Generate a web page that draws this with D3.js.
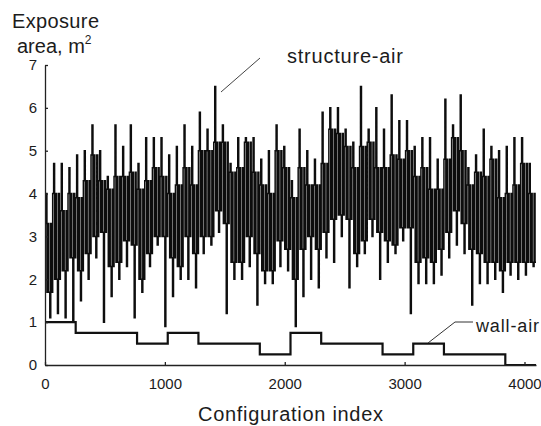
<!DOCTYPE html>
<html><head><meta charset="utf-8">
<script src="https://cdn.jsdelivr.net/npm/d3@7"></script>
<style>
body{margin:0;background:#fff}
svg{display:block}
text{font-family:"Liberation Sans",Arial,sans-serif;fill:#1c1c1c}
</style>
</head><body><svg id="c" width="541" height="426"></svg>
<script>
// ---- data ----
const xTickValues = [0, 1000, 2000, 3000, 4000];
const yTickValues = [0, 1, 2, 3, 4, 5, 6, 7];
const configCount = 4096;

// wall-air exposure area, one value per block of 256 configurations
const wallAirBlock = 256;
const wallAir = [1, 0.75, 0.75, 0.5, 0.75, 0.5, 0.5, 0.25, 0.75, 0.5, 0.5, 0.25, 0.5, 0.25, 0.25, 0];

// structure-air exposure area, envelope per block of 64 configurations
const structureBlock = 64;
const structurePeak = [4.0,4.7,4.7,4.6,4.9,5.0,5.6,5.0,4.4,5.6,5.1,5.6,4.7,5.3,5.3,5.3,
  4.9,5.1,5.6,5.1,5.9,5.5,6.5,5.6,4.7,5.3,5.3,5.3,4.8,5.0,5.6,5.1,
  4.3,5.5,5.0,4.8,5.9,6.0,6.0,5.5,5.2,6.5,5.5,6.0,5.5,6.3,5.7,5.7,
  5.1,5.3,5.3,4.8,6.2,5.6,6.3,4.6,4.9,5.5,5.1,5.0,5.1,5.3,5.3,4.7];
const structureBandTop = [3.3,4.0,3.6,4.0,3.9,4.3,4.9,4.3,4.1,4.4,4.4,4.5,4.1,4.3,4.6,4.4,
  4.0,4.2,4.6,4.2,5.0,5.0,5.2,5.2,4.5,4.6,5.2,4.5,4.2,4.0,5.0,4.6,
  3.9,4.6,4.2,4.2,4.7,5.5,5.4,5.1,4.6,5.1,5.2,4.6,4.6,4.9,4.8,5.0,
  4.4,4.6,4.1,4.1,4.8,5.3,5.0,4.2,4.5,4.4,4.8,3.9,4.0,4.2,4.7,4.0];
const structureBandBottom = [1.7,2.0,2.2,2.5,2.2,2.6,3.0,3.1,2.3,2.4,2.9,2.8,2.0,2.6,3.0,3.0,
  2.5,2.3,3.0,2.6,3.0,3.0,3.6,3.3,2.4,2.4,3.0,2.6,2.2,2.2,2.9,2.7,
  2.0,2.7,3.0,2.7,3.1,3.4,3.5,3.4,2.6,2.9,3.4,3.1,2.9,2.8,3.2,3.2,
  2.4,2.5,2.4,2.7,3.1,3.6,3.3,2.7,2.6,2.4,2.4,2.2,2.4,2.4,2.4,2.4];
const structureTrough = [1.1,1.2,1.1,1.0,1.5,2.0,2.5,1.0,1.6,2.0,2.3,1.1,1.7,2.3,2.8,0.9,
  1.6,2.0,2.0,1.8,2.6,2.8,3.1,1.2,2.0,2.0,2.3,1.4,1.9,1.9,2.3,2.2,
  0.9,1.6,2.0,1.8,2.5,2.4,3.0,1.8,2.3,2.6,3.0,2.0,2.4,2.6,2.9,1.2,
  1.9,1.9,1.9,2.1,2.5,2.8,2.6,1.4,1.9,1.9,2.0,1.7,2.1,2.0,2.1,2.3];

// ---- drawing ----
const svg = d3.select('#c');
const x = d3.scaleLinear().domain([0, configCount]).range([45, 536]);
const y = d3.scaleLinear().domain([0, 7]).range([365, 65]);

// structure-air: within each block the value swings through band, peak and trough
const structurePts = [];
structurePeak.forEach((pk, i) => {
  const top = structureBandTop[i], bot = structureBandBottom[i], tr = structureTrough[i];
  const seq = [top, pk, bot, top, bot, tr, top, bot];
  const step = structureBlock / seq.length;
  seq.forEach((v, k) => structurePts.push([i * structureBlock + k * step, v]));
});
structurePts.push([configCount, structureBandBottom[structureBandBottom.length - 1]]);

const line = d3.line().x(d => x(d[0])).y(d => y(d[1])).curve(d3.curveStepAfter);

svg.append('path')
  .attr('d', line(structurePts))
  .attr('fill', 'none')
  .attr('stroke', '#0d0d0d')
  .attr('stroke-width', 1.5);

const wallPts = wallAir.map((v, i) => [i * wallAirBlock, v]);
wallPts.push([configCount, wallAir[wallAir.length - 1]]);
svg.append('path')
  .attr('d', line(wallPts))
  .attr('fill', 'none')
  .attr('stroke', '#111')
  .attr('stroke-width', 2.2);

// axes
const xAxis = svg.append('g').attr('transform', 'translate(0,365)')
  .call(d3.axisBottom(x).tickValues(xTickValues).tickSizeInner(-3).tickSizeOuter(0).tickPadding(13).tickFormat(d3.format('d')));
const yAxis = svg.append('g').attr('transform', 'translate(45,0)')
  .call(d3.axisLeft(y).tickValues(yTickValues).tickSizeInner(-3).tickSizeOuter(0).tickPadding(8).tickFormat(d3.format('d')));
[xAxis, yAxis].forEach(a => {
  a.selectAll('path,line').attr('stroke', '#222').attr('stroke-width', 1.3);
  a.selectAll('text').attr('font-size', 15).attr('fill', '#1c1c1c')
    .style('font-family', '"Liberation Sans",Arial,sans-serif');
});

// axis titles
svg.append('text').attr('x', 12).attr('y', 28).attr('font-size', 20)
  .attr('textLength', 87).attr('lengthAdjust', 'spacing').text('Exposure');
const t2 = svg.append('text').attr('x', 17).attr('y', 53).attr('font-size', 20);
t2.append('tspan').text('area, m');
t2.append('tspan').attr('font-size', 12).attr('dy', -9).text('2');

svg.append('text').attr('x', 198).attr('y', 421).attr('font-size', 20)
  .attr('textLength', 185).attr('lengthAdjust', 'spacing').text('Configuration index');

// annotations
svg.append('path')
  .attr('d', d3.line()([[260, 58], [221, 92]]))
  .attr('stroke', '#444').attr('stroke-width', 1).attr('fill', 'none');
svg.append('text').attr('x', 287).attr('y', 63).attr('font-size', 20)
  .attr('textLength', 116).attr('lengthAdjust', 'spacing').text('structure-air');

svg.append('path')
  .attr('d', d3.line()([[473, 322], [455, 322], [428, 343]]))
  .attr('stroke', '#333').attr('stroke-width', 1).attr('fill', 'none');
svg.append('text').attr('x', 476).attr('y', 332).attr('font-size', 18)
  .attr('textLength', 63).attr('lengthAdjust', 'spacing').text('wall-air');
</script>
</body></html>
